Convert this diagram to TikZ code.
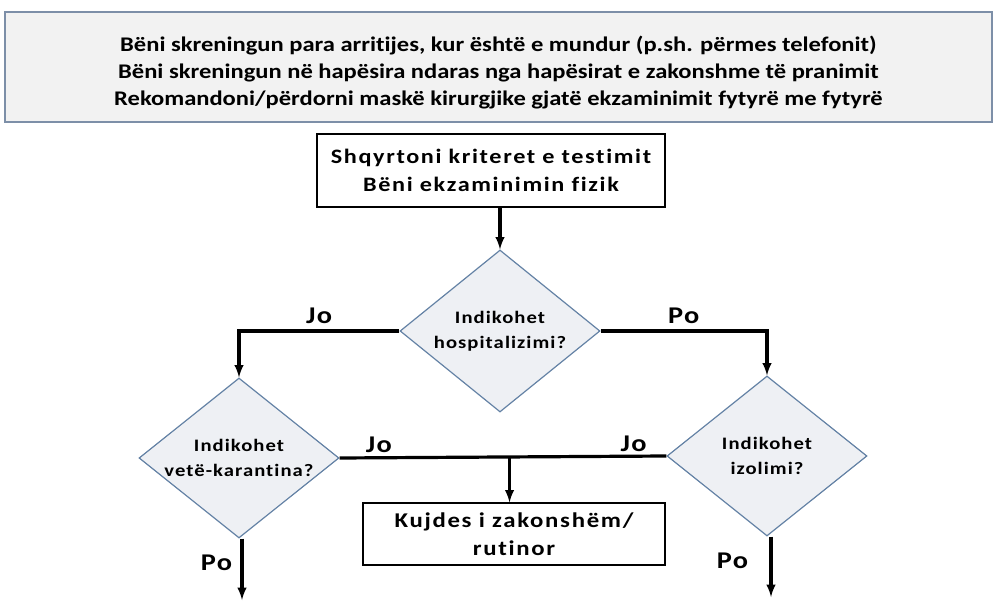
\documentclass[tikz,border=0pt]{standalone}
\usepackage{fontspec}
\setmainfont{Carlito}
\newfontfamily\widefont[FakeStretch=1.18, Ligatures=NoCommon]{Carlito}
\newfontfamily\spacedfont[FakeStretch=1.18, LetterSpace=6, Ligatures=NoCommon]{Carlito}
\newfontfamily\loosefont[FakeStretch=1.18, LetterSpace=8, Ligatures=NoCommon]{Carlito}
\usetikzlibrary{shapes.geometric,arrows,positioning}

\definecolor{notefill}{RGB}{242,242,242}
\definecolor{noteedge}{RGB}{125,143,168}
\definecolor{decfill}{RGB}{238,240,244}
\definecolor{decedge}{RGB}{100,130,165}

\begin{document}
\begin{tikzpicture}[auto, >=latex, x=1pt, y=-1pt,
  note/.style={draw=noteedge, fill=notefill, line width=1.4pt,
    minimum width=987pt, minimum height=110pt},
  notetext/.style={align=center, yshift=-6pt,
    font=\widefont\bfseries\fontsize{20.8}{25}\selectfont},
  stepbox/.style={draw, line width=1.2pt, fill=white, align=center},
  decision/.style={diamond, draw=decedge, fill=decfill, line width=1.2pt,
    minimum width=200pt, minimum height=160pt, inner sep=0pt},
  dectext/.style={align=center, font=\spacedfont\bfseries\fontsize{17.5}{25}\selectfont},
  answer/.style={font=\spacedfont\bfseries\fontsize{24}{28}\selectfont},
  arrow/.style={->, line width=3.2pt}]
  \useasboundingbox (0,0) rectangle (997,602);

  \node[note, label={[notetext]center:B\"eni skreningun para arritijes, kur \"esht\"e e mundur (p.sh. p\"ermes telefonit)\\[2pt]
    B\"eni skreningun n\"e hap\"esira ndaras nga hap\"esirat e zakonshme t\"e pranimit\\[2pt]
    Rekomandoni/p\"erdorni mask\"e kirurgjike gjat\"e ekzaminimit fytyr\"e me fytyr\"e}] (screen) at (498.5,67) {};

  \node[stepbox, minimum width=348pt, minimum height=73pt,
    font=\loosefont\bfseries\fontsize{20.5}{28}\selectfont] (check) at (491,170.5)
    {Shqyrtoni kriteret e testimit\\B\"eni ekzaminimin fizik};

  \node[decision, minimum height=162pt,
    label={[dectext]center:Indikohet\\hospitalizimi?}] (hosp) at (500,331) {};
  \node[decision,
    label={[dectext]center:Indikohet\\vet\"e-karantina?}] (quar) at (239,458) {};
  \node[decision,
    label={[dectext]center:Indikohet\\izolimi?}] (isol) at (767,456) {};

  \node[stepbox, minimum width=302pt, minimum height=62pt,
    font=\loosefont\bfseries\fontsize{21}{28}\selectfont] (care) at (514,534)
    {Kujdes i zakonsh\"em/\\rutinor};

  \coordinate (quarout) at (242,600);
  \coordinate (isolout) at (771,597);

  % arrows
  \draw[arrow] (check.south -| hosp.north) -- (hosp.north);
  \draw[arrow] (hosp.west) -| node[answer, pos=0.25, above=2pt] {Jo} (quar.north);
  \draw[arrow] (hosp.east) -| node[answer, pos=0.25, above=2pt] {Po} (isol.north);
  \draw[line width=3.2pt] (quar.east) -- node[answer, pos=0.12, above=0pt] {Jo}
    node[answer, pos=0.9, above=0pt] {Jo} coordinate[pos=0.52] (split) (isol.west);
  \draw[arrow] (split) -- (split |- care.north);
  \draw[arrow] (quar.south -| quarout) -- node[answer, pos=0.4, left=5pt] {Po} (quarout);
  \draw[arrow] (isol.south -| isolout) -- node[answer, pos=0.4, left=18pt] {Po} (isolout);
\end{tikzpicture}
\end{document}
